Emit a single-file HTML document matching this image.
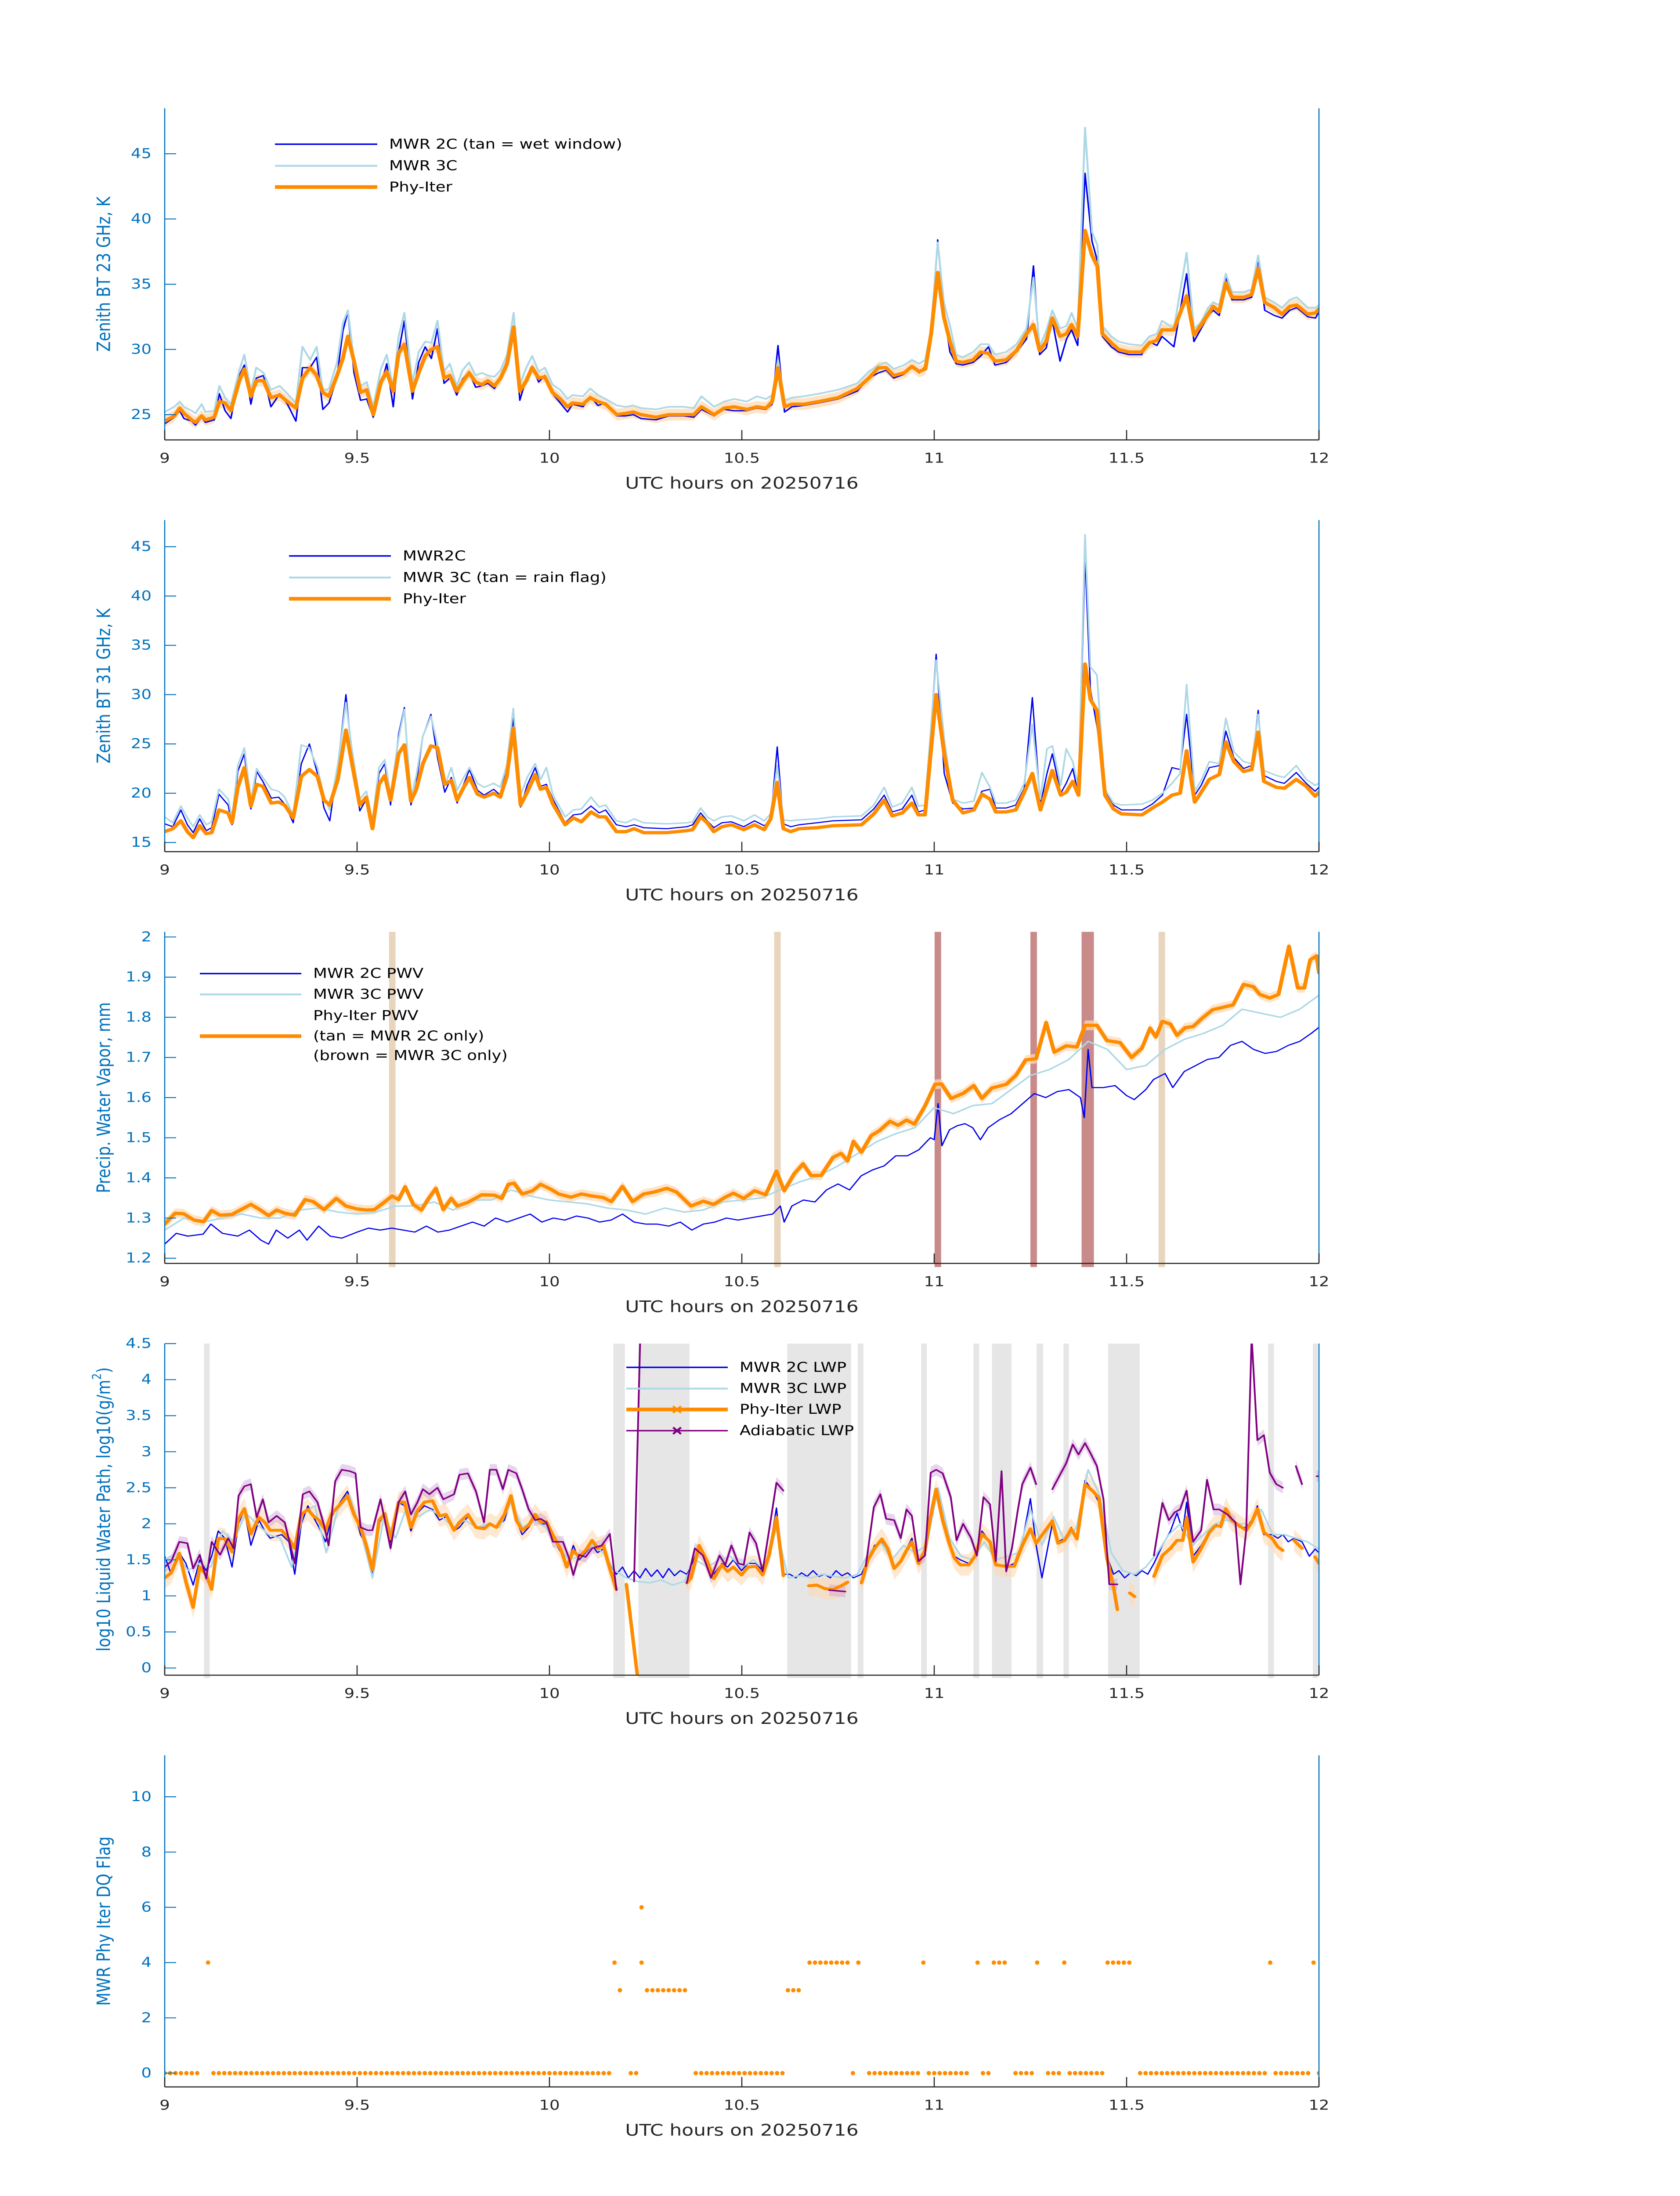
<!DOCTYPE html>
<html><head><meta charset="utf-8"><title>MWR retrieval comparison 20250716</title>
<style>html,body{margin:0;padding:0;background:#fff;width:100%;height:100%;overflow:hidden}svg{display:block;position:absolute;left:0;top:0;width:100vw;height:100vh}</style></head>
<body>
<svg id="fig" xmlns="http://www.w3.org/2000/svg" viewBox="0 0 3825 6000" preserveAspectRatio="none" font-family="'DejaVu Sans','Liberation Sans',sans-serif">
<rect x="0" y="0" width="3825" height="6000" fill="#ffffff"/>
</svg>
<script>
// ---------- Panel 1: BT 23 GHz ----------
const bt23Hours=[9.000,9.025,9.039,9.050,9.070,9.080,9.096,9.106,9.129,9.142,9.157,9.172,9.194,9.207,9.224,9.238,9.257,9.276,9.299,9.319,9.341,9.358,9.378,9.395,9.411,9.427,9.448,9.463,9.476,9.492,9.509,9.525,9.542,9.562,9.577,9.594,9.608,9.623,9.644,9.660,9.677,9.693,9.709,9.726,9.741,9.759,9.774,9.791,9.808,9.824,9.840,9.857,9.873,9.890,9.907,9.923,9.940,9.955,9.972,9.988,10.008,10.028,10.047,10.060,10.087,10.106,10.126,10.146,10.175,10.198,10.218,10.238,10.277,10.310,10.349,10.375,10.395,10.428,10.454,10.480,10.513,10.539,10.563,10.579,10.594,10.611,10.63,10.66,10.70,10.75,10.80,10.83,10.855,10.875,10.895,10.922,10.942,10.961,10.977,10.992,11.009,11.025,11.041,11.057,11.074,11.101,11.121,11.141,11.158,11.187,11.214,11.240,11.258,11.274,11.291,11.307,11.327,11.344,11.357,11.373,11.392,11.410,11.424,11.437,11.460,11.479,11.506,11.539,11.559,11.579,11.592,11.623,11.656,11.675,11.692,11.712,11.725,11.741,11.758,11.774,11.805,11.825,11.842,11.859,11.884,11.904,11.924,11.942,11.971,11.991,12.0];
const bt23Mwr2c=[24.3,24.8,25.3,24.7,24.5,24.2,24.8,24.4,24.6,26.6,25.3,24.7,28.0,28.8,25.8,27.8,28.0,25.6,26.6,25.8,24.5,28.6,28.6,29.4,25.4,25.9,27.9,31.4,32.9,28.2,26.1,26.2,24.8,27.2,28.9,25.6,29.8,32.2,26.2,29.0,30.2,29.3,31.6,27.4,27.8,26.5,27.7,28.3,27.1,27.2,27.4,27.0,27.8,29.2,31.8,26.1,27.8,28.7,27.5,28.0,26.6,25.9,25.2,25.8,25.6,26.4,25.7,25.9,24.9,24.9,25.0,24.7,24.6,24.9,24.9,24.8,25.4,24.9,25.4,25.3,25.3,25.5,25.4,25.8,30.3,25.2,25.6,25.7,25.9,26.2,26.8,27.8,28.2,28.4,27.8,28.1,28.6,28.2,28.7,31.0,38.4,32.9,29.8,28.9,28.8,29.0,29.5,30.2,28.8,29.0,29.8,30.8,36.4,29.6,30.1,32.2,29.1,30.8,31.5,30.3,43.5,38.3,36.8,31.0,30.2,29.8,29.6,29.6,30.6,30.3,31.0,30.2,35.8,30.6,31.5,32.6,33.0,32.6,35.6,33.8,33.8,34.0,37.0,33.0,32.6,32.4,33.0,33.2,32.5,32.4,32.9];
const bt23Mwr3c=[25.2,25.6,26.0,25.6,25.3,25.1,25.8,25.2,25.3,27.2,26.3,25.8,28.4,29.6,26.8,28.6,28.2,26.9,27.2,26.6,25.9,30.2,29.2,30.2,26.8,27.0,29.0,32.0,33.0,29.1,27.2,27.5,25.6,28.5,29.6,27.0,31.0,32.8,27.4,29.8,30.6,30.5,32.2,28.3,28.9,27.2,28.4,29.0,28.0,28.2,28.0,27.9,28.4,29.6,32.8,27.3,28.6,29.5,28.3,28.6,27.3,26.9,26.2,26.5,26.4,27.0,26.5,26.2,25.7,25.6,25.7,25.5,25.4,25.6,25.6,25.5,26.4,25.6,26.0,26.2,26.0,26.4,26.2,26.5,29.2,26.1,26.3,26.4,26.6,26.9,27.4,28.3,28.8,29.0,28.5,28.8,29.2,28.9,29.2,31.6,38.2,33.6,31.8,29.6,29.4,29.8,30.4,30.4,29.6,29.8,30.4,31.6,35.5,30.2,31.4,33.0,31.6,31.8,32.8,31.6,47.0,39.0,38.0,31.8,31.0,30.6,30.4,30.3,31.0,31.2,32.2,31.6,37.4,31.6,32.0,33.2,33.6,33.4,35.8,34.4,34.4,34.6,37.2,34.0,33.6,33.2,33.8,34.0,33.2,33.2,33.4];
const bt23PhyIter=[24.5,24.9,25.5,25.1,24.6,24.4,24.9,24.6,24.8,26.0,25.9,25.3,27.6,28.5,26.4,27.6,27.6,26.3,26.5,26.0,25.5,27.8,28.6,28.0,26.7,26.4,28.0,29.3,31.0,29.1,26.7,26.9,25.0,27.5,28.3,26.8,29.7,30.4,26.8,28.2,29.5,30.0,30.2,27.8,28.0,26.8,27.5,28.2,27.5,27.3,27.6,27.2,27.8,28.9,31.7,26.8,27.6,28.6,27.8,27.9,26.7,26.2,25.6,25.9,25.8,26.3,26.0,25.8,25.0,25.1,25.2,25.0,24.8,25.0,25.0,25.0,25.6,25.0,25.5,25.6,25.4,25.6,25.5,26.0,28.6,25.6,25.8,25.8,26.0,26.3,27.0,27.8,28.6,28.6,28.0,28.2,28.7,28.3,28.5,31.2,35.9,32.5,30.6,29.1,29.0,29.2,29.8,29.7,29.1,29.2,29.9,31.2,31.9,29.9,30.6,32.4,31.0,31.2,31.9,31.0,39.1,37.2,36.4,31.2,30.5,30.0,29.8,29.8,30.5,30.7,31.5,31.5,34.1,31.1,31.8,32.7,33.3,32.9,35.1,34.0,34.0,34.2,36.2,33.6,33.2,32.7,33.3,33.4,32.7,32.8,33.1];
const bt23Unc=0.45;
const bt23Ticks=[25,30,35,40,45];

// ---------- Panel 2: BT 31 GHz ----------
const bt31Hours=[9.0,9.021,9.042,9.059,9.074,9.091,9.108,9.122,9.141,9.165,9.175,9.19,9.207,9.224,9.239,9.255,9.277,9.296,9.312,9.334,9.355,9.376,9.397,9.414,9.429,9.45,9.471,9.486,9.507,9.524,9.54,9.557,9.572,9.587,9.608,9.623,9.64,9.654,9.671,9.692,9.709,9.728,9.745,9.76,9.777,9.792,9.813,9.83,9.855,9.872,9.889,9.906,9.925,9.942,9.963,9.977,9.992,10.009,10.041,10.062,10.083,10.108,10.129,10.146,10.174,10.199,10.22,10.245,10.305,10.357,10.372,10.393,10.41,10.427,10.448,10.473,10.505,10.533,10.558,10.575,10.592,10.608,10.627,10.649,10.695,10.737,10.811,10.843,10.87,10.891,10.917,10.942,10.959,10.976,11.005,11.026,11.048,11.075,11.103,11.124,11.145,11.16,11.187,11.212,11.234,11.255,11.276,11.293,11.307,11.329,11.343,11.36,11.375,11.392,11.406,11.423,11.444,11.466,11.487,11.54,11.567,11.593,11.618,11.639,11.656,11.677,11.694,11.715,11.741,11.758,11.779,11.804,11.825,11.842,11.857,11.889,11.91,11.941,11.967,11.99,12.0];
const bt31Mwr2c=[16.9,16.6,18.3,16.8,16.0,17.4,16.2,16.5,19.9,18.8,16.8,22.2,24.0,18.4,22.2,21.2,19.5,19.6,18.9,17.0,23.0,25.0,22.0,18.5,17.2,22.8,30.0,24.2,18.2,19.4,16.6,22.0,23.0,18.8,26.0,28.7,18.8,21.0,25.8,28.0,23.6,20.1,21.6,19.0,20.9,22.4,20.3,19.8,20.4,19.8,22.6,27.6,18.6,20.8,22.6,20.7,20.9,19.4,17.0,17.8,17.9,18.7,18.0,18.3,16.8,16.6,16.8,16.5,16.4,16.6,16.8,18.0,17.2,16.5,17.0,17.1,16.6,17.2,16.7,17.3,24.7,16.9,16.6,16.8,17.0,17.2,17.3,18.4,19.8,18.1,18.4,19.8,18.1,18.3,34.1,22.0,19.0,18.4,18.5,20.2,20.4,18.5,18.5,18.8,20.5,29.7,18.8,22.0,24.0,20.0,21.0,22.5,19.8,44.0,30.5,26.8,20.3,18.8,18.3,18.3,18.9,19.8,22.6,22.4,28.0,19.8,20.8,22.6,22.8,26.3,23.6,22.5,22.8,28.4,21.8,21.2,21.0,22.1,21.0,20.2,20.6];
const bt31Mwr3c=[17.6,17.0,18.7,17.5,16.6,17.8,16.8,17.1,20.4,19.4,17.5,22.8,24.6,19.3,22.5,21.6,20.4,20.2,19.6,17.8,24.9,24.6,22.6,19.6,18.3,22.9,29.2,24.6,19.4,20.2,17.2,22.6,23.4,19.8,25.6,28.5,19.6,21.8,25.8,27.8,24.9,20.8,22.6,20.3,21.6,22.6,21.0,20.6,21.0,20.6,22.8,28.6,19.8,21.6,23.0,21.4,22.6,19.8,17.6,18.3,18.4,19.6,18.6,18.8,17.2,17.0,17.4,17.0,16.9,17.0,17.1,18.5,17.6,17.2,17.6,17.7,17.2,17.8,17.2,17.9,22.8,17.3,17.2,17.3,17.4,17.6,17.7,18.8,20.6,18.6,19.0,20.6,18.7,18.8,33.5,25.5,19.4,19.0,19.2,22.1,20.6,19.0,19.0,19.3,21.0,27.0,19.4,24.5,24.8,20.8,24.5,23.2,20.6,46.2,32.8,32.0,20.4,19.0,18.8,18.9,19.3,20.0,21.0,22.0,31.0,20.2,21.3,23.2,23.0,27.6,24.2,23.2,23.0,28.0,22.3,21.8,21.6,22.8,21.4,20.8,21.0];
const bt31PhyIter=[16.1,16.4,17.2,16.1,15.5,16.7,15.9,16.0,18.3,18.0,17.0,20.6,22.6,18.7,20.9,20.7,19.0,19.1,18.8,17.5,21.7,22.4,21.7,19.3,18.8,21.4,26.4,23.2,18.8,19.6,16.4,20.9,21.8,19.3,24.0,24.9,19.2,20.4,23.0,24.8,24.6,20.9,21.3,19.3,20.6,21.6,19.9,19.6,20.0,19.6,21.7,26.6,18.8,20.1,21.9,20.4,20.6,18.9,16.8,17.5,17.1,18.1,17.6,17.6,16.1,16.1,16.4,16.0,16.0,16.2,16.3,17.6,17.0,16.1,16.6,16.8,16.3,16.8,16.3,17.4,21.1,16.4,16.1,16.4,16.5,16.7,16.8,17.9,19.3,17.7,18.0,19.0,17.8,17.8,30.0,24.0,19.3,18.0,18.3,19.9,19.4,18.1,18.1,18.3,20.1,22.0,18.3,20.5,22.3,19.8,20.1,21.2,19.8,33.1,29.5,28.4,19.8,18.4,17.9,17.8,18.5,19.1,19.8,20.0,24.3,19.1,20.1,21.4,21.9,25.2,23.2,22.2,22.4,26.2,21.2,20.6,20.5,21.4,20.7,19.7,20.1];
const bt31Ticks=[15,20,25,30,35,40,45];

// ---------- Panel 3: PWV ----------
const pwv2cHours=[9.0,9.03,9.06,9.1,9.12,9.15,9.19,9.22,9.25,9.27,9.29,9.32,9.35,9.37,9.4,9.43,9.46,9.5,9.53,9.56,9.59,9.62,9.65,9.68,9.71,9.74,9.77,9.8,9.83,9.86,9.89,9.92,9.95,9.98,10.01,10.04,10.07,10.1,10.13,10.16,10.19,10.22,10.25,10.28,10.31,10.34,10.37,10.4,10.43,10.46,10.49,10.52,10.55,10.58,10.6,10.61,10.63,10.66,10.69,10.72,10.75,10.78,10.81,10.84,10.87,10.9,10.93,10.96,10.99,11.0,11.01,11.02,11.04,11.06,11.08,11.1,11.12,11.14,11.17,11.2,11.23,11.26,11.29,11.32,11.35,11.38,11.39,11.4,11.41,11.44,11.47,11.5,11.52,11.55,11.57,11.6,11.62,11.65,11.68,11.71,11.74,11.77,11.8,11.83,11.86,11.89,11.92,11.95,11.98,12.0];
const pwv2cValues=[1.235,1.262,1.255,1.26,1.285,1.262,1.255,1.27,1.245,1.235,1.27,1.25,1.27,1.245,1.28,1.255,1.25,1.265,1.275,1.27,1.275,1.27,1.265,1.28,1.265,1.27,1.28,1.29,1.28,1.30,1.29,1.30,1.31,1.29,1.30,1.295,1.305,1.30,1.29,1.295,1.31,1.29,1.285,1.285,1.28,1.29,1.27,1.285,1.29,1.30,1.295,1.30,1.305,1.31,1.33,1.29,1.33,1.345,1.34,1.37,1.385,1.37,1.405,1.42,1.43,1.455,1.455,1.47,1.50,1.495,1.585,1.48,1.52,1.53,1.535,1.525,1.495,1.525,1.545,1.56,1.585,1.61,1.60,1.615,1.62,1.60,1.55,1.72,1.625,1.625,1.63,1.605,1.595,1.62,1.645,1.66,1.625,1.665,1.68,1.695,1.70,1.73,1.74,1.72,1.71,1.715,1.73,1.74,1.76,1.775];
const pwv3cHours=[9.0,9.05,9.1,9.15,9.2,9.25,9.3,9.35,9.4,9.45,9.5,9.55,9.6,9.65,9.7,9.75,9.8,9.85,9.9,9.95,10.0,10.05,10.1,10.15,10.2,10.25,10.3,10.35,10.4,10.45,10.5,10.55,10.6,10.65,10.7,10.75,10.8,10.85,10.9,10.95,11.0,11.05,11.1,11.15,11.2,11.25,11.3,11.35,11.4,11.45,11.5,11.55,11.6,11.65,11.7,11.75,11.8,11.85,11.9,11.95,12.0];
const pwv3cValues=[1.27,1.30,1.29,1.30,1.31,1.30,1.30,1.32,1.325,1.315,1.31,1.315,1.33,1.33,1.34,1.32,1.345,1.345,1.37,1.355,1.345,1.34,1.335,1.325,1.32,1.31,1.325,1.315,1.32,1.34,1.345,1.35,1.37,1.39,1.405,1.43,1.46,1.49,1.51,1.525,1.575,1.56,1.58,1.585,1.62,1.655,1.67,1.695,1.74,1.72,1.67,1.68,1.72,1.745,1.76,1.78,1.82,1.81,1.80,1.82,1.855];
const pwvPhyHours=[9.0,9.027,9.049,9.076,9.101,9.122,9.144,9.175,9.196,9.224,9.249,9.27,9.291,9.312,9.338,9.365,9.386,9.414,9.446,9.471,9.498,9.524,9.545,9.57,9.591,9.608,9.625,9.646,9.667,9.686,9.705,9.724,9.745,9.76,9.788,9.824,9.857,9.876,9.893,9.908,9.929,9.956,9.977,10.005,10.024,10.056,10.083,10.11,10.14,10.161,10.19,10.216,10.245,10.273,10.305,10.33,10.368,10.4,10.427,10.457,10.478,10.505,10.533,10.562,10.59,10.61,10.636,10.659,10.68,10.706,10.737,10.758,10.775,10.79,10.811,10.836,10.858,10.885,10.906,10.928,10.949,10.976,11.002,11.019,11.044,11.076,11.103,11.124,11.15,11.187,11.213,11.238,11.265,11.291,11.312,11.343,11.371,11.392,11.423,11.449,11.483,11.513,11.54,11.561,11.576,11.593,11.614,11.631,11.652,11.673,11.698,11.724,11.751,11.777,11.804,11.83,11.846,11.872,11.895,11.922,11.945,11.962,11.977,11.994,12.0];
const pwvPhyValues=[1.285,1.312,1.311,1.295,1.291,1.319,1.307,1.309,1.320,1.334,1.320,1.306,1.320,1.312,1.307,1.346,1.341,1.321,1.349,1.330,1.323,1.320,1.321,1.339,1.355,1.346,1.378,1.334,1.320,1.349,1.374,1.321,1.349,1.330,1.339,1.358,1.357,1.349,1.384,1.387,1.360,1.368,1.384,1.371,1.360,1.352,1.360,1.355,1.351,1.341,1.379,1.341,1.360,1.365,1.374,1.365,1.330,1.342,1.334,1.352,1.362,1.349,1.368,1.358,1.417,1.368,1.410,1.435,1.406,1.406,1.451,1.461,1.442,1.491,1.464,1.505,1.518,1.541,1.531,1.544,1.534,1.579,1.633,1.634,1.598,1.611,1.630,1.598,1.624,1.633,1.656,1.694,1.697,1.787,1.713,1.729,1.726,1.780,1.780,1.742,1.737,1.700,1.723,1.773,1.751,1.790,1.783,1.755,1.774,1.777,1.799,1.819,1.825,1.831,1.882,1.876,1.857,1.848,1.857,1.977,1.873,1.873,1.943,1.953,1.911];
const pwvUnc=0.012;
const tan2cOnlyStart=[9.583,10.584,11.583];
const tan2cOnlyEnd=[9.600,10.601,11.600];
const brown3cOnlyStart=[11.001,11.250,11.383];
const brown3cOnlyEnd=[11.018,11.267,11.415];
const pwvTicks=[1.2,1.3,1.4,1.5,1.6,1.7,1.8,1.9,2];

// ---------- Panel 4: LWP ----------
const lwp2cHours=[9.0,9.017,9.038,9.055,9.074,9.091,9.108,9.122,9.139,9.156,9.175,9.192,9.207,9.224,9.245,9.26,9.274,9.304,9.323,9.338,9.355,9.372,9.386,9.401,9.418,9.434,9.456,9.475,9.492,9.509,9.524,9.54,9.557,9.572,9.587,9.608,9.623,9.64,9.657,9.675,9.696,9.714,9.731,9.752,9.766,9.788,9.809,9.83,9.845,9.862,9.883,9.9,9.914,9.929,9.946,9.963,9.977,9.992,10.009,10.03,10.045,10.062,10.077,10.094,10.111,10.125,10.14,10.157,10.174,10.19,10.205,10.22,10.235,10.25,10.265,10.28,10.295,10.31,10.325,10.34,10.357,10.368,10.389,10.41,10.427,10.448,10.463,10.478,10.499,10.516,10.537,10.554,10.571,10.59,10.608,10.625,10.64,10.655,10.67,10.685,10.7,10.715,10.73,10.745,10.76,10.775,10.79,10.811,10.828,10.845,10.864,10.879,10.896,10.913,10.928,10.942,10.959,10.976,10.991,11.005,11.022,11.039,11.053,11.068,11.09,11.107,11.124,11.145,11.16,11.187,11.208,11.229,11.25,11.265,11.28,11.307,11.322,11.339,11.356,11.371,11.392,11.413,11.428,11.449,11.466,11.48,11.495,11.51,11.525,11.54,11.555,11.571,11.593,11.614,11.631,11.646,11.656,11.673,11.694,11.715,11.73,11.745,11.758,11.773,11.794,11.811,11.825,11.84,11.857,11.878,11.893,11.906,11.92,11.935,11.956,11.975,11.99,12.0];
const lwp2cValues=[1.55,1.30,1.60,1.45,1.15,1.50,1.35,1.55,1.90,1.80,1.40,2.00,2.20,1.70,2.05,1.90,1.80,1.85,1.75,1.30,2.00,2.25,2.10,1.95,1.75,2.10,2.30,2.45,2.20,1.85,1.70,1.30,2.00,2.15,1.75,2.30,2.25,1.90,2.15,2.25,2.20,2.05,2.10,1.90,1.95,2.10,1.95,1.95,2.00,1.95,2.05,2.35,2.05,1.85,1.95,2.10,2.00,2.00,1.80,1.60,1.40,1.70,1.50,1.60,1.70,1.60,1.65,1.45,1.30,1.40,1.25,1.35,1.25,1.38,1.27,1.36,1.25,1.38,1.28,1.35,1.30,1.40,1.70,1.45,1.30,1.45,1.40,1.50,1.35,1.45,1.45,1.35,1.60,2.22,1.30,1.30,1.25,1.32,1.27,1.35,1.27,1.30,1.25,1.35,1.28,1.32,1.25,1.30,1.50,1.70,1.75,1.65,1.40,1.50,1.65,1.80,1.45,1.65,2.10,2.45,2.10,1.75,1.55,1.50,1.45,1.55,1.90,1.75,1.45,1.40,1.45,1.75,2.35,1.70,1.25,2.00,1.75,1.80,1.95,1.80,2.60,2.45,2.30,1.55,1.30,1.35,1.25,1.32,1.28,1.35,1.30,1.45,1.70,1.90,2.15,1.90,2.30,1.55,1.70,1.90,2.00,1.95,2.20,2.05,1.95,1.95,2.05,2.25,1.85,1.85,1.80,1.85,1.75,1.80,1.75,1.55,1.65,1.60];
const lwp3cHours=[9.0,9.03,9.06,9.09,9.12,9.15,9.18,9.21,9.24,9.27,9.3,9.33,9.36,9.39,9.42,9.45,9.48,9.51,9.54,9.57,9.6,9.63,9.66,9.69,9.72,9.75,9.78,9.81,9.84,9.87,9.9,9.93,9.96,9.99,10.02,10.05,10.08,10.11,10.14,10.17,10.2,10.23,10.26,10.29,10.32,10.35,10.38,10.41,10.44,10.47,10.5,10.53,10.56,10.59,10.62,10.65,10.68,10.71,10.74,10.77,10.8,10.83,10.86,10.89,10.92,10.95,10.98,11.01,11.04,11.07,11.1,11.13,11.16,11.19,11.22,11.25,11.28,11.31,11.34,11.37,11.4,11.43,11.46,11.49,11.52,11.55,11.58,11.61,11.64,11.67,11.7,11.73,11.76,11.79,11.82,11.85,11.88,11.91,11.94,11.97,12.0];
const lwp3cValues=[1.50,1.60,1.35,1.45,1.40,1.90,1.75,2.15,2.00,1.85,1.80,1.40,2.15,2.25,1.60,2.20,2.40,1.90,1.25,2.10,1.80,2.25,2.10,2.20,2.10,1.95,2.05,1.95,2.00,1.95,2.30,1.95,2.05,1.95,1.70,1.50,1.55,1.70,1.60,1.35,1.25,1.20,1.18,1.22,1.15,1.20,1.50,1.40,1.50,1.55,1.40,1.50,1.35,1.95,1.25,1.28,1.25,1.30,1.27,1.25,1.30,1.60,1.75,1.50,1.70,1.60,1.70,2.50,1.80,1.55,1.50,1.75,1.50,1.55,1.60,2.20,1.70,2.10,1.75,1.95,2.75,2.40,1.60,1.35,1.30,1.40,1.60,1.85,2.00,1.70,1.85,2.00,2.05,2.00,2.00,2.20,1.85,1.85,1.80,1.75,1.65];
const lwpPhyHours=[9.0,9.017,9.038,9.055,9.074,9.091,9.108,9.122,9.139,9.156,9.175,9.192,9.207,9.224,9.245,9.26,9.274,9.304,9.323,9.338,9.355,9.372,9.386,9.401,9.418,9.434,9.456,9.475,9.492,9.509,9.524,9.54,9.557,9.572,9.587,9.608,9.623,9.64,9.657,9.675,9.696,9.714,9.731,9.752,9.766,9.788,9.809,9.83,9.845,9.862,9.883,9.9,9.914,9.929,9.946,9.963,9.977,9.992,10.009,10.03,10.045,10.062,10.077,10.094,10.111,10.125,10.14,10.157,10.174,10.185,10.2,10.228,10.3,10.357,10.368,10.389,10.41,10.427,10.448,10.463,10.478,10.499,10.516,10.537,10.554,10.571,10.59,10.608,10.64,10.674,10.695,10.716,10.737,10.758,10.775,10.795,10.811,10.828,10.845,10.864,10.879,10.896,10.913,10.928,10.942,10.959,10.976,10.991,11.005,11.022,11.039,11.053,11.068,11.09,11.107,11.124,11.145,11.16,11.187,11.208,11.229,11.25,11.265,11.307,11.322,11.339,11.356,11.371,11.392,11.413,11.428,11.449,11.466,11.476,11.49,11.508,11.521,11.53,11.571,11.593,11.614,11.631,11.646,11.656,11.673,11.694,11.715,11.73,11.745,11.758,11.773,11.794,11.811,11.825,11.84,11.857,11.878,11.893,11.906,11.92,11.935,11.956,11.97,11.99,12.0];
const lwpPhyValues=[1.25,1.32,1.59,1.20,0.84,1.40,1.29,1.09,1.80,1.79,1.61,2.07,2.21,1.86,2.09,2.02,1.91,1.91,1.79,1.66,2.13,2.20,2.11,2.05,1.91,2.14,2.27,2.39,2.13,1.95,1.70,1.36,2.05,2.14,1.79,2.30,2.30,1.95,2.18,2.30,2.32,2.11,2.13,1.91,2.02,2.13,1.95,1.93,2.00,1.95,2.13,2.39,2.05,1.91,1.98,2.13,2.02,2.03,1.84,1.64,1.40,1.63,1.54,1.63,1.77,1.66,1.70,1.38,1.09,null,1.16,-0.08,null,1.18,1.25,1.70,1.48,1.24,1.43,1.34,1.40,1.29,1.40,1.41,1.29,1.57,2.09,1.28,null,1.14,1.15,1.10,1.09,1.14,1.19,null,1.18,1.50,1.66,1.79,1.66,1.38,1.48,1.63,1.75,1.45,1.63,2.11,2.48,2.05,1.73,1.52,1.43,1.43,1.56,1.86,1.75,1.43,1.41,1.41,1.70,1.93,1.73,2.04,1.73,1.77,1.93,1.79,2.55,2.45,2.36,1.52,1.13,0.81,null,1.04,0.99,null,1.27,1.56,1.66,1.77,1.77,2.09,1.47,1.66,1.88,1.97,1.97,2.21,2.05,1.97,1.91,2.02,2.21,1.88,1.80,1.68,1.63,null,1.77,1.66,null,1.54,1.45];
const lwpAdiHours=[9.0,9.017,9.038,9.059,9.074,9.091,9.108,9.122,9.144,9.165,9.179,9.192,9.207,9.224,9.239,9.255,9.27,9.291,9.312,9.338,9.359,9.376,9.397,9.414,9.426,9.443,9.46,9.481,9.496,9.509,9.528,9.54,9.561,9.587,9.608,9.625,9.64,9.657,9.671,9.688,9.709,9.724,9.752,9.766,9.788,9.809,9.83,9.845,9.862,9.879,9.893,9.914,9.929,9.946,9.963,9.977,9.992,10.009,10.035,10.051,10.062,10.077,10.094,10.111,10.136,10.157,10.174,10.19,10.22,10.236,10.3,10.357,10.378,10.399,10.42,10.442,10.457,10.473,10.491,10.505,10.52,10.537,10.554,10.575,10.59,10.608,10.65,10.727,10.769,10.79,10.822,10.843,10.86,10.875,10.896,10.913,10.928,10.942,10.959,10.976,10.991,11.005,11.022,11.043,11.058,11.075,11.096,11.111,11.128,11.145,11.16,11.175,11.187,11.202,11.217,11.229,11.25,11.265,11.29,11.307,11.329,11.343,11.36,11.375,11.392,11.406,11.423,11.44,11.455,11.476,11.52,11.571,11.593,11.61,11.625,11.639,11.656,11.673,11.694,11.709,11.726,11.741,11.762,11.783,11.796,11.811,11.825,11.84,11.857,11.872,11.889,11.906,11.92,11.94,11.956,11.97,11.994,12.0];
const lwpAdiValues=[1.40,1.48,1.75,1.73,1.38,1.57,1.24,1.75,1.57,1.80,1.66,2.39,2.52,2.55,2.09,2.34,2.02,2.11,2.02,1.45,2.41,2.45,2.30,1.98,1.70,2.59,2.75,2.73,2.70,1.95,1.91,1.91,2.34,1.66,2.30,2.45,2.13,2.30,2.48,2.41,2.50,2.34,2.41,2.68,2.70,2.45,2.02,2.75,2.75,2.48,2.75,2.70,2.48,2.20,2.05,2.07,2.02,1.75,1.75,1.52,1.29,1.57,1.54,1.66,1.70,1.86,1.08,null,1.20,4.6,null,1.18,1.66,1.56,1.25,1.56,1.43,1.70,1.45,1.43,1.88,1.73,1.34,2.05,2.57,2.46,null,1.08,1.06,null,1.41,2.23,2.41,2.07,2.05,1.80,2.20,2.11,1.48,1.56,2.71,2.75,2.70,2.37,1.77,2.00,1.80,1.56,2.37,2.27,1.48,2.73,1.34,1.66,2.18,2.55,2.78,2.55,null,2.48,2.70,2.84,3.10,2.96,3.12,2.98,2.80,2.34,1.16,1.16,null,1.56,2.29,2.05,2.16,2.20,2.46,1.75,1.91,2.61,2.20,2.20,2.13,2.02,1.16,1.91,4.6,3.16,3.23,2.71,2.55,2.50,null,2.80,2.55,null,2.66,2.66];
const lwpPhyUnc=0.15;
const lwpAdiUnc=0.08;
const wetStart=[9.102,10.166,10.231,10.618,10.801,10.966,11.102,11.150,11.266,11.336,11.452,11.868,11.984];
const wetEnd=[9.117,10.196,10.364,10.784,10.816,10.981,11.117,11.201,11.283,11.350,11.534,11.883,11.997];
const lwpTicks=[0,0.5,1,1.5,2,2.5,3,3.5,4,4.5];

// ---------- Panel 5: DQ flag ----------
const flagRunValues=[0,null,4,0,4,3,null,0,4,3,null,0,3,null,4,0,4,null,0,4,0,null,4,0,4,null,0,4,null,0,4,0,4,null,0,4,0,4,0];
const flagRunLengths=[7,1,1,74,1,1,1,2,1,8,1,17,3,1,8,1,1,1,10,1,8,1,1,2,3,1,4,1,1,3,1,7,5,1,24,1,7,1,1];
const flagStepHours=3/213;
const flagExtraIndex=[88];
const flagExtraValue=[6];
const flagTicks=[0,2,4,6,8,10];

const xTicks=[9,9.5,10,10.5,11,11.5,12];
const xTickLabels=['9','9.5','10','10.5','11','11.5','12'];

// ---------- layout ----------
const NS='http://www.w3.org/2000/svg';
const svg=document.getElementById('fig');
const AX_L=375, AX_R=3003, AX_H=906;
const BLUEAX='#0072BD', DARK='#262626';
const C2C='#0000ee', C3C='#add8e6', CORG='#ff8c00', CPUR='#800080';

function mk(tag, attrs, name, parent){
  const el=document.createElementNS(NS,tag);
  for(const k in attrs) el.setAttribute(k,attrs[k]);
  
  
  (parent||svg).appendChild(el);
  return el;
}
function sx(h){return AX_L+(h-9)/3*(AX_R-AX_L);}
function makeSy(top,ymin,ymax){return v=>top+AX_H-(v-ymin)/(ymax-ymin)*AX_H;}
function linePath(hours,vals,sy){
  let d='',pen=false;
  for(let i=0;i<hours.length;i++){
    const v=vals[i];
    if(v===null||v===undefined){pen=false;continue;}
    d+=(pen?'L':'M')+sx(hours[i]).toFixed(1)+' '+sy(v).toFixed(1);
    pen=true;
  }
  return d;
}
function bandPath(hours,vals,unc,sy){
  let d='',seg=[];
  const flush=()=>{
    if(seg.length>1){
      d+='M'+seg.map(p=>sx(p[0]).toFixed(1)+' '+sy(p[1]+unc).toFixed(1)).join('L');
      d+='L'+seg.slice().reverse().map(p=>sx(p[0]).toFixed(1)+' '+sy(p[1]-unc).toFixed(1)).join('L')+'Z';
    }
    seg=[];
  };
  for(let i=0;i<hours.length;i++){
    if(vals[i]===null){flush();continue;}
    seg.push([hours[i],vals[i]]);
  }
  flush();
  return d;
}
function fmt(v){return String(Math.round(v*1000)/1000);}

function makePanel(idx,top,ymin,ymax,yTicks,ylabel,ylabelSup){
  const g=mk('g',{},'panel-'+idx);
  const sy=makeSy(top,ymin,ymax);
  const clipId='clip'+idx;
  const cp=mk('clipPath',{id:clipId},'clip-region-'+idx,g);
  mk('rect',{x:AX_L,y:top,width:AX_R-AX_L,height:AX_H},'clip-rect-'+idx,cp);
  const bg=mk('g',{},'background-bands-'+idx,g);
  const plot=mk('g',{'clip-path':'url(#'+clipId+')'},'plot-area-'+idx,g);
  const axes=mk('g',{},'axes-'+idx,g);
  mk('line',{x1:AX_L,y1:top,x2:AX_L,y2:top+AX_H,stroke:BLUEAX,'stroke-width':2.5},'y-axis-line-'+idx,axes);
  mk('line',{x1:AX_R,y1:top,x2:AX_R,y2:top+AX_H,stroke:BLUEAX,'stroke-width':2.5},'right-axis-line-'+idx,axes);
  mk('line',{x1:AX_L,y1:top+AX_H,x2:AX_R,y2:top+AX_H,stroke:DARK,'stroke-width':3},'x-axis-line-'+idx,axes);
  yTicks.forEach(v=>{
    const y=sy(v);
    mk('line',{x1:AX_L,y1:y,x2:AX_L+26,y2:y,stroke:BLUEAX,'stroke-width':2.5},'y-tick-'+idx,axes);
    const t=mk('text',{x:AX_L-30,y:y,'text-anchor':'end','dominant-baseline':'central','font-size':37,fill:BLUEAX},'y-tick-label-'+idx,axes);
    t.textContent=fmt(v);
  });
  xTicks.forEach((h,i)=>{
    const x=sx(h);
    mk('line',{x1:x,y1:top+AX_H,x2:x,y2:top+AX_H-27,stroke:DARK,'stroke-width':2.5},'x-tick-'+idx,axes);
    const t=mk('text',{x:x,y:top+AX_H+50,'text-anchor':'middle','dominant-baseline':'central','font-size':37,fill:DARK},'x-tick-label-'+idx,axes);
    t.textContent=xTickLabels[i];
  });
  const xl=mk('text',{x:(AX_L+AX_R)/2,y:top+AX_H+118,'text-anchor':'middle','dominant-baseline':'central','font-size':44,fill:DARK},'x-axis-title-'+idx,axes);
  xl.textContent='UTC hours on 20250716';
  const cy=top+AX_H/2;
  const yl=mk('text',{x:237,y:cy,'text-anchor':'middle','dominant-baseline':'central','font-size':42,fill:BLUEAX,transform:'rotate(-90 237 '+cy+')'},'y-axis-title-'+idx,axes);
  yl.textContent=ylabel;
  if(ylabelSup){
    const ts=mk('tspan',{'baseline-shift':'super','font-size':28},'y-axis-title-superscript',yl);
    ts.textContent=ylabelSup;
    const ts2=mk('tspan',{},'y-axis-title-end',yl);
    ts2.textContent=')';
  }
  return {g,bg,plot,sy,top};
}
function addLine(p,hours,vals,color,w,name){
  return mk('path',{d:linePath(hours,vals,p.sy),fill:'none',stroke:color,'stroke-width':w,'stroke-linejoin':'round','stroke-linecap':'round'},name,p.plot);
}
function addBand(p,hours,vals,unc,color,op,name){
  return mk('path',{d:bandPath(hours,vals,unc,p.sy),fill:color,'fill-opacity':op,stroke:'none'},name,p.plot);
}
function legendRow(parent,x1,x2,y,color,w,label,name,marker){
  if(color){
    mk('line',{x1:x1,y1:y,x2:x2,y2:y,stroke:color,'stroke-width':w},name+'-swatch',parent);
    if(marker){
      const mx=(x1+x2)/2;
      mk('path',{d:'M'+(mx-9)+' '+(y-9)+'L'+(mx+9)+' '+(y+9)+'M'+(mx-9)+' '+(y+9)+'L'+(mx+9)+' '+(y-9),stroke:color,'stroke-width':5},name+'-marker',parent);
    }
  }
  const t=mk('text',{x:x2+27,y:y,'dominant-baseline':'central','font-size':37,fill:'#000'},name+'-label',parent);
  t.textContent=label;
}

const TOPS=[296,1421,2546,3671,4796];

// Panel 1
const p1=makePanel(1,TOPS[0],23.06,48.48,bt23Ticks,'Zenith BT 23 GHz, K');
addBand(p1,bt23Hours,bt23PhyIter,bt23Unc,'#ffd9b3',0.75,'bt23-phyiter-uncertainty');
addLine(p1,bt23Hours,bt23Mwr2c,C2C,3.5,'bt23-mwr2c-line');
addLine(p1,bt23Hours,bt23Mwr3c,C3C,4.5,'bt23-mwr3c-line');
addLine(p1,bt23Hours,bt23PhyIter,CORG,9,'bt23-phyiter-line');
const lg1=mk('g',{},'legend-1',p1.g);
legendRow(lg1,626,859,394,C2C,4,'MWR 2C (tan = wet window)','legend-entry-mwr2c');
legendRow(lg1,626,859,453,C3C,5,'MWR 3C','legend-entry-mwr3c');
legendRow(lg1,626,859,511,CORG,10,'Phy-Iter','legend-entry-phyiter');

// Panel 2
const p2=makePanel(2,TOPS[1],14.07,47.7,bt31Ticks,'Zenith BT 31 GHz, K');
addLine(p2,bt31Hours,bt31Mwr2c,C2C,3,'bt31-mwr2c-line');
addLine(p2,bt31Hours,bt31Mwr3c,C3C,4,'bt31-mwr3c-line');
addLine(p2,bt31Hours,bt31PhyIter,CORG,9,'bt31-phyiter-line');
const lg2=mk('g',{},'legend-2',p2.g);
legendRow(lg2,658,890,1519,C2C,4,'MWR2C','legend-entry-mwr2c');
legendRow(lg2,658,890,1578,C3C,5,'MWR 3C (tan = rain flag)','legend-entry-mwr3c');
legendRow(lg2,658,890,1636,CORG,10,'Phy-Iter','legend-entry-phyiter');

// Panel 3
const p3=makePanel(3,TOPS[2],1.187,2.0128,pwvTicks,'Precip. Water Vapor, mm');
tan2cOnlyStart.forEach((s,i)=>{
  mk('rect',{x:sx(s),y:p3.top,width:sx(tan2cOnlyEnd[i])-sx(s),height:AX_H+10,fill:'#e8d5bd'},'tan-band-mwr2c-only',p3.bg);
});
brown3cOnlyStart.forEach((s,i)=>{
  mk('rect',{x:sx(s),y:p3.top,width:sx(brown3cOnlyEnd[i])-sx(s),height:AX_H+10,fill:'#c98a8a'},'brown-band-mwr3c-only',p3.bg);
});
addBand(p3,pwvPhyHours,pwvPhyValues,pwvUnc,'#ffd9b3',0.75,'pwv-phyiter-uncertainty');
addLine(p3,pwv2cHours,pwv2cValues,C2C,3,'pwv-mwr2c-line');
addLine(p3,pwv3cHours,pwv3cValues,C3C,4,'pwv-mwr3c-line');
addLine(p3,pwvPhyHours,pwvPhyValues,CORG,9,'pwv-phyiter-line');
const lg3=mk('g',{},'legend-3',p3.g);
legendRow(lg3,455,686,2660,C2C,4,'MWR 2C PWV','legend-entry-mwr2c');
legendRow(lg3,455,686,2717,C3C,5,'MWR 3C PWV','legend-entry-mwr3c');
legendRow(lg3,455,686,2775,null,0,'Phy-Iter PWV','legend-entry-phyiter-title');
legendRow(lg3,455,686,2831,CORG,10,'(tan = MWR 2C only)','legend-entry-phyiter');
legendRow(lg3,455,686,2884,null,0,'(brown = MWR 3C only)','legend-entry-brown-note');

// Panel 4
const p4=makePanel(4,TOPS[3],-0.1,4.5,lwpTicks,'log10 Liquid Water Path, log10(g/m','2');
wetStart.forEach((s,i)=>{
  mk('rect',{x:sx(s),y:p4.top,width:sx(wetEnd[i])-sx(s),height:AX_H+8,fill:'#e6e6e6'},'wet-window-band',p4.bg);
});
addBand(p4,lwpPhyHours,lwpPhyValues,lwpPhyUnc,'#ffd9b3',0.6,'lwp-phyiter-uncertainty');
addBand(p4,lwpAdiHours,lwpAdiValues,lwpAdiUnc,'#c9a0d6',0.45,'lwp-adiabatic-uncertainty');
addLine(p4,lwp2cHours,lwp2cValues,C2C,3,'lwp-mwr2c-line');
addLine(p4,lwp3cHours,lwp3cValues,C3C,4,'lwp-mwr3c-line');
addLine(p4,lwpPhyHours,lwpPhyValues,CORG,8,'lwp-phyiter-line');
addLine(p4,lwpAdiHours,lwpAdiValues,CPUR,4,'lwp-adiabatic-line');
const lg4=mk('g',{},'legend-4',p4.g);
legendRow(lg4,1426,1657,3736,C2C,4,'MWR 2C LWP','legend-entry-mwr2c');
legendRow(lg4,1426,1657,3794,C3C,5,'MWR 3C LWP','legend-entry-mwr3c');
legendRow(lg4,1426,1657,3851,CORG,10,'Phy-Iter LWP','legend-entry-phyiter',true);
legendRow(lg4,1426,1657,3909,CPUR,4,'Adiabatic LWP','legend-entry-adiabatic',true);

// Panel 5
const p5=makePanel(5,TOPS[4],-0.5,11.5,flagTicks,'MWR Phy Iter DQ Flag');
const flagValues=[];
flagRunValues.forEach((v,i)=>{for(let k=0;k<flagRunLengths[i];k++) flagValues.push(v);});
flagValues.forEach((v,i)=>{
  if(v===null) return;
  const c=document.createElementNS(NS,'ellipse');
  c.setAttribute('cx',sx(9+i*flagStepHours).toFixed(1));
  c.setAttribute('cy',p5.sy(v).toFixed(1));
  c.setAttribute('rx',5);c.setAttribute('ry',6);c.setAttribute('fill',CORG);
  
  
  p5.plot.appendChild(c);
});
flagExtraIndex.forEach((ix,i)=>{
  const c=document.createElementNS(NS,'ellipse');
  c.setAttribute('cx',sx(9+ix*flagStepHours).toFixed(1));
  c.setAttribute('cy',p5.sy(flagExtraValue[i]).toFixed(1));
  c.setAttribute('rx',5);c.setAttribute('ry',6);c.setAttribute('fill',CORG);
  
  
  p5.plot.appendChild(c);
});
</script>
</body></html>
